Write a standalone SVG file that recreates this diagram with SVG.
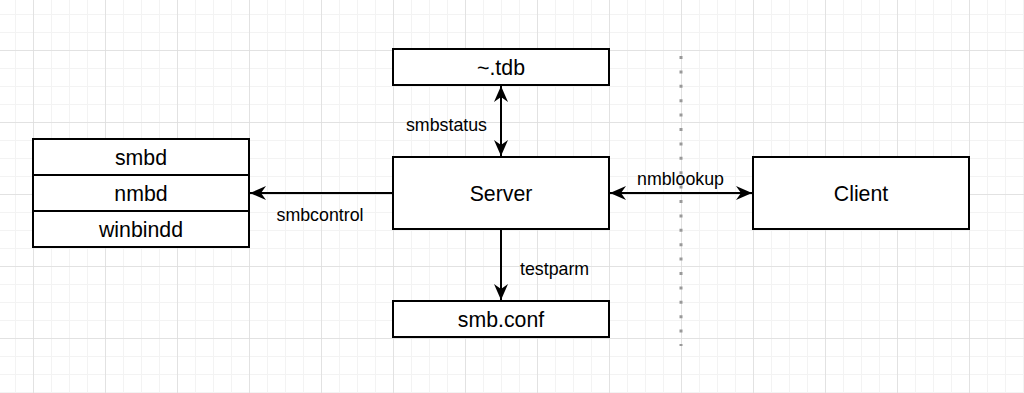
<svg xmlns="http://www.w3.org/2000/svg" width="1024" height="393" viewBox="0 0 1024 393">
  <defs>
    <pattern id="minor" x="-3" y="-4" width="18" height="18" patternUnits="userSpaceOnUse">
      <path d="M 0 0 L 0 18 M 0 0 L 18 0" fill="none" stroke="#f3f3f3" stroke-width="2"/>
    </pattern>
    <pattern id="major" x="33" y="50" width="72" height="72" patternUnits="userSpaceOnUse">
      <path d="M 0 0 L 0 72 M 0 0 L 72 0" fill="none" stroke="#dddddd" stroke-width="1.5"/>
    </pattern>
    <marker id="arr" viewBox="-17 -8 18 16" refX="0" refY="0" markerWidth="18" markerHeight="16" markerUnits="userSpaceOnUse" orient="auto-start-reverse">
      <path d="M0,0 L-16,-7 L-11,0 L-16,7 Z" fill="#000"/>
    </marker>
  </defs>
  <style>
    .box { fill: #ffffff; stroke: #000000; stroke-width: 2; }
    .nt { font-family: "Liberation Sans", Arial, sans-serif; font-size: 21.3px; fill: #000; text-anchor: middle; }
    .lt { font-family: "Liberation Sans", Arial, sans-serif; font-size: 17.8px; fill: #000; }
    .edge { fill: none; stroke: #000; stroke-width: 2; }
  </style>
  <rect width="1024" height="393" fill="#ffffff"/>
  <rect width="1024" height="393" fill="url(#minor)"/>
  <rect width="1024" height="393" fill="url(#major)"/>

  <line x1="681" y1="56" x2="681" y2="346" stroke="#999999" stroke-width="3" stroke-dasharray="3 11.4"/>

  <g id="tdb">
    <rect class="box" x="393" y="49" width="216" height="36"/>
    <text class="nt" x="501" y="74.5">~.tdb</text>
  </g>
  <g id="server">
    <rect class="box" x="393" y="157" width="216" height="72"/>
    <text class="nt" x="501" y="200.5">Server</text>
  </g>
  <g id="smbconf">
    <rect class="box" x="393" y="301" width="216" height="36"/>
    <text class="nt" x="501" y="326.5">smb.conf</text>
  </g>
  <g id="client">
    <rect class="box" x="753" y="157" width="216" height="72"/>
    <text class="nt" x="861" y="200.5">Client</text>
  </g>
  <g id="daemons">
    <rect class="box" x="33" y="139" width="216" height="108"/>
    <line x1="33" y1="175" x2="249" y2="175" stroke="#000" stroke-width="2"/>
    <line x1="33" y1="211" x2="249" y2="211" stroke="#000" stroke-width="2"/>
    <text class="nt" x="141" y="164.5">smbd</text>
    <text class="nt" x="141" y="200.5">nmbd</text>
    <text class="nt" x="141" y="236.5">winbindd</text>
  </g>

  <g id="connectors">
    <line class="edge" x1="501" y1="86" x2="501" y2="156" marker-start="url(#arr)" marker-end="url(#arr)"/>
    <text class="lt" x="487" y="130.5" text-anchor="end">smbstatus</text>
    <line class="edge" x1="392" y1="193" x2="250" y2="193" marker-end="url(#arr)"/>
    <text class="lt" x="320" y="220.5" text-anchor="middle">smbcontrol</text>
    <line class="edge" x1="610" y1="193" x2="752" y2="193" marker-start="url(#arr)" marker-end="url(#arr)"/>
    <text class="lt" x="680.5" y="184.5" text-anchor="middle">nmblookup</text>
    <line class="edge" x1="501" y1="230" x2="501" y2="300" marker-end="url(#arr)"/>
    <text class="lt" x="520" y="274.5">testparm</text>
  </g>
</svg>
